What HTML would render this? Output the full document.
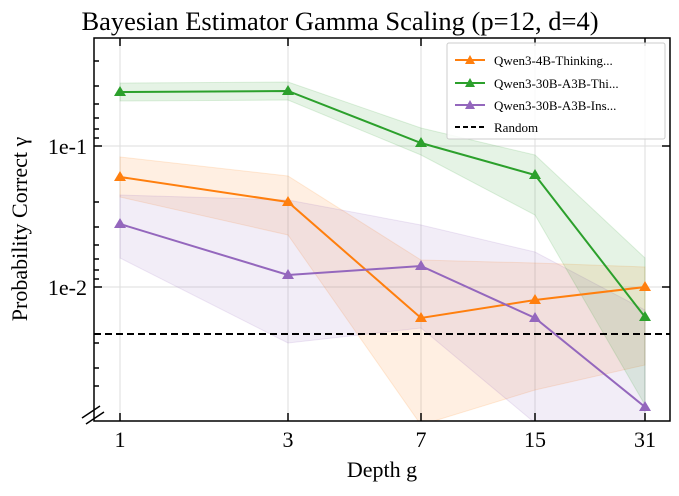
<!DOCTYPE html><html><head><style>body{margin:0;background:#fff}svg{font-family:"Liberation Serif",serif}</style></head><body>
<svg width="679" height="491" viewBox="0 0 679 491">
<defs><clipPath id="c"><rect x="94" y="38" width="576" height="383"/></clipPath></defs>
<text x="340" y="30" text-anchor="middle" font-size="26.5">Bayesian Estimator Gamma Scaling (p=12, d=4)</text>
<g stroke="#ddd" stroke-width="1">
<line x1="120" y1="38" x2="120" y2="421"/><line x1="288" y1="38" x2="288" y2="421"/><line x1="421" y1="38" x2="421" y2="421"/><line x1="535" y1="38" x2="535" y2="421"/><line x1="645" y1="38" x2="645" y2="421"/>
<line x1="94" y1="146" x2="670" y2="146"/><line x1="94" y1="287" x2="670" y2="287"/></g>
<g clip-path="url(#c)">
<polygon points="120,157 288,176 421,260 535,263 645,267 645,365 535,390 421,425 288,235 120,197" fill="#ff7f0e" fill-opacity="0.12" stroke="#ff7f0e" stroke-opacity="0.15"/>
<polygon points="120,195 288,200 421,225 535,252 645,310 645,436 535,423 421,328 288,343 120,258" fill="#9467bd" fill-opacity="0.12" stroke="#9467bd" stroke-opacity="0.15"/>
<polygon points="120,83 288,82 421,128 535,155 645,258 645,405 535,215 421,155 288,100 120,101" fill="#2ca02c" fill-opacity="0.12" stroke="#2ca02c" stroke-opacity="0.15"/>
</g>
<line x1="94" y1="334" x2="670" y2="334" stroke="#000" stroke-width="2" stroke-dasharray="7,4"/>
<g stroke-width="2" fill="none">
<polyline points="120,177 288,202 421,318 535,300 645,287" stroke="#ff7f0e"/>
<polyline points="120,92 288,91 421,143 535,175 645,317" stroke="#2ca02c"/>
<polyline points="120,224 288,275 421,266 535,318 645,407" stroke="#9467bd"/>
</g>
<g fill="#ff7f0e"><path d="M120,171l6,10h-12z"/><path d="M288,196l6,10h-12z"/><path d="M421,312l6,10h-12z"/><path d="M535,294l6,10h-12z"/><path d="M645,281l6,10h-12z"/></g>
<g fill="#2ca02c"><path d="M120,86l6,10h-12z"/><path d="M288,85l6,10h-12z"/><path d="M421,137l6,10h-12z"/><path d="M535,169l6,10h-12z"/><path d="M645,311l6,10h-12z"/></g>
<g fill="#9467bd"><path d="M120,218l6,10h-12z"/><path d="M288,269l6,10h-12z"/><path d="M421,260l6,10h-12z"/><path d="M535,312l6,10h-12z"/><path d="M645,401l6,10h-12z"/></g>
<rect x="94" y="38" width="576" height="383" fill="none" stroke="#000" stroke-width="1.5"/>
<g stroke="#000" stroke-width="1.5">
<line x1="94" y1="146" x2="102" y2="146"/><line x1="94" y1="287" x2="102" y2="287"/>
<line x1="94" y1="61" x2="99" y2="61"/><line x1="94" y1="86" x2="99" y2="86"/><line x1="94" y1="104" x2="99" y2="104"/><line x1="94" y1="118" x2="99" y2="118"/><line x1="94" y1="129" x2="99" y2="129"/><line x1="94" y1="138" x2="99" y2="138"/>
<line x1="94" y1="202" x2="99" y2="202"/><line x1="94" y1="227" x2="99" y2="227"/><line x1="94" y1="245" x2="99" y2="245"/><line x1="94" y1="259" x2="99" y2="259"/><line x1="94" y1="270" x2="99" y2="270"/><line x1="94" y1="279" x2="99" y2="279"/>
<line x1="94" y1="343" x2="99" y2="343"/><line x1="94" y1="368" x2="99" y2="368"/><line x1="94" y1="386" x2="99" y2="386"/>
<line x1="670" y1="146" x2="662" y2="146"/><line x1="670" y1="287" x2="662" y2="287"/>
<line x1="120" y1="421" x2="120" y2="413"/><line x1="288" y1="421" x2="288" y2="413"/><line x1="421" y1="421" x2="421" y2="413"/><line x1="535" y1="421" x2="535" y2="413"/><line x1="645" y1="421" x2="645" y2="413"/>
<line x1="120" y1="38" x2="120" y2="46"/><line x1="288" y1="38" x2="288" y2="46"/><line x1="421" y1="38" x2="421" y2="46"/><line x1="535" y1="38" x2="535" y2="46"/><line x1="645" y1="38" x2="645" y2="46"/>
<line x1="82" y1="418" x2="100" y2="406"/><line x1="86" y1="424" x2="104" y2="412"/>
</g>
<g font-size="22" text-anchor="end"><text x="87" y="154">1e-1</text><text x="87" y="295">1e-2</text></g>
<g font-size="22" text-anchor="middle"><text x="120" y="447">1</text><text x="288" y="447">3</text><text x="421" y="447">7</text><text x="535" y="447">15</text><text x="645" y="447">31</text></g>
<text x="382" y="477" text-anchor="middle" font-size="22">Depth g</text>
<text transform="translate(27,229) rotate(-90)" text-anchor="middle" font-size="22">Probability Correct γ</text>
<rect x="447" y="43" width="218" height="96" fill="#fff" fill-opacity="0.85" stroke="#ccc" rx="2"/>
<g stroke-width="2"><line x1="455" y1="60" x2="485" y2="60" stroke="#ff7f0e"/><line x1="455" y1="83" x2="485" y2="83" stroke="#2ca02c"/><line x1="455" y1="105" x2="485" y2="105" stroke="#9467bd"/><line x1="455" y1="127" x2="485" y2="127" stroke="#000" stroke-dasharray="5,3"/></g>
<path d="M470,55l5,9h-10z" fill="#ff7f0e"/><path d="M470,78l5,9h-10z" fill="#2ca02c"/><path d="M470,100l5,9h-10z" fill="#9467bd"/>
<g font-size="13"><text x="494" y="65">Qwen3-4B-Thinking...</text><text x="494" y="88">Qwen3-30B-A3B-Thi...</text><text x="494" y="110">Qwen3-30B-A3B-Ins...</text><text x="494" y="132">Random</text></g>
</svg></body></html>
